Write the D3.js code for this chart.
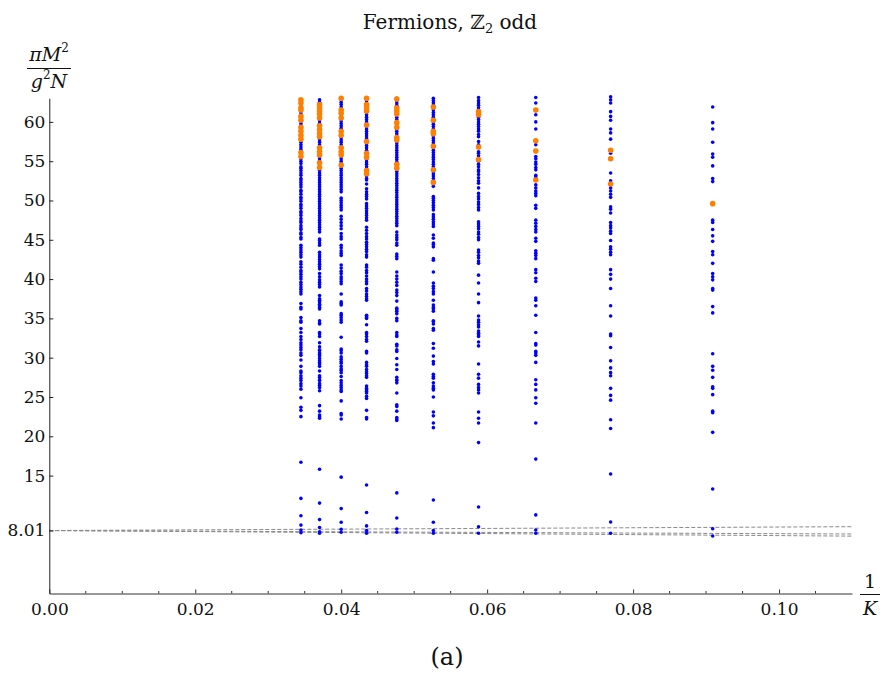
<!DOCTYPE html>
<html>
<head>
<meta charset="utf-8">
<script src="https://cdn.jsdelivr.net/npm/d3@7"></script>
<style>
  html, body { margin: 0; padding: 0; background: #fff; }
  svg { display: block; }
  svg text { font-family: "DejaVu Serif", serif; fill: #111; }
</style>
</head>
<body>
<svg id="chart" width="885" height="675"></svg>
<script>
// ---------------- DATA ----------------
const kValues = [29, 27, 25, 23, 21, 19, 17, 15, 13, 11];

// blue points (pi M^2 / g^2 N) for each K
const blueK29 = [7.74, 8.08, 8.7, 9.9, 12.1, 16.7,
  22.5, 23.3, 23.7, 24.9, 26.0, 26.4, 26.7, 27.1, 27.4, 27.7, 28.1, 28.3, 28.9, 29.7, 30.3, 30.6, 31.0, 31.3, 31.6, 31.9, 32.3, 32.7, 33.2, 33.7, 34.5, 34.7, 35.1, 36.2, 36.4, 36.9,
  38.1, 38.4, 38.7, 39.0, 39.3, 39.6, 40.0, 40.3, 40.6, 40.9, 41.1, 41.5, 41.9, 42.2, 42.8, 43.1, 43.4, 43.7, 44.0, 44.3,
  45.1, 45.3, 45.7, 45.9, 46.3, 46.5, 46.8, 47.2, 47.4, 47.7, 48.1, 48.4, 48.6, 49.0, 49.3, 49.5, 49.9, 50.2, 50.4, 50.8, 51.1, 51.3, 51.7, 52.0, 52.3, 52.6, 52.8, 53.2, 53.5, 53.8, 54.1, 54.3, 54.7, 55.0, 55.3, 55.6, 55.9, 56.2, 56.5, 56.8, 57.1, 57.4, 57.7, 58.0, 58.3, 58.6, 58.9, 59.2, 59.5, 59.8, 60.1, 60.4, 60.7, 61.0, 61.3, 61.6, 61.9, 62.2, 62.5, 62.8];
const blueK27 = [7.66, 7.86, 8.4, 9.4, 11.5, 15.8,
  22.3, 22.5, 22.7, 23.2, 23.9, 25.8, 26.2, 26.5, 26.7, 27.1, 27.2, 27.5, 27.7, 28.3, 28.9, 29.2, 29.4, 29.6, 29.9, 30.2, 30.4, 30.6, 30.9, 31.0, 31.4, 31.9, 32.7, 33.0, 33.2, 34.3, 34.4, 34.7, 36.2, 36.4, 36.6, 36.8, 37.1, 37.3,
  37.5, 37.9, 39.0, 39.3, 39.6, 39.9, 40.3, 40.7, 41.3, 41.6, 41.9, 42.2, 42.5, 42.8, 43.1, 43.4, 44.3, 44.6, 44.9, 45.1,
  46.0, 46.3, 46.6, 46.9, 47.2, 47.5, 47.8, 48.1, 48.4, 48.7, 49.0, 49.3, 49.6, 49.9, 50.2, 50.5, 50.8, 51.1, 51.4, 51.7, 52.0, 52.3, 52.6, 52.9, 53.2, 53.5, 53.8, 54.1, 54.4, 54.7, 55.0, 55.3, 55.6, 55.9, 56.2, 56.5, 56.8, 57.1, 57.4, 57.7, 58.0, 58.3, 58.6, 58.9, 59.2, 59.5, 59.8, 60.1, 60.4, 60.7, 61.0, 61.3, 61.6, 61.9, 62.2, 62.5, 62.8];
const blueK25 = [7.79, 8.17, 9.06, 10.8, 14.8,
  22.2, 22.7, 22.9, 24.5, 25.7, 25.9, 26.2, 26.5, 26.8, 27.1, 27.6, 28.1, 28.4, 28.6, 28.9, 29.3, 29.5, 29.8, 30.1, 30.6, 30.9, 31.1, 32.6, 34.5, 34.8, 35.1, 35.4, 35.6, 36.7, 36.9, 37.1,
  38.1, 39.4, 39.7, 40.0, 40.3, 40.7, 41.0, 41.4, 41.8, 43.0, 43.3, 43.6, 44.0, 44.3, 45.1, 45.4, 45.8, 46.4, 46.8, 47.2, 47.6, 48.0, 48.8, 49.1, 49.4, 49.7, 50.0, 50.3,
  51.1, 51.4, 51.7, 52.0, 52.3, 52.6, 52.9, 53.2, 53.5, 53.8, 54.1, 54.4, 54.7, 55.0, 55.3, 55.6, 55.9, 56.2, 56.5, 56.8, 57.1, 57.4, 57.7, 58.0, 58.3, 58.6, 58.9, 59.2, 59.5, 59.8, 60.1, 60.4, 60.7, 61.0, 61.3, 61.6, 61.9, 62.2, 62.5, 62.8];
const blueK23 = [7.66, 8.0, 8.6, 10.3, 13.8,
  22.2, 22.4, 23.3, 24.8, 25.1, 25.5, 25.7, 25.9, 26.1, 26.4, 27.5, 27.7, 28.0, 28.2, 28.5, 28.9, 29.1, 29.4, 30.6, 30.8, 32.1, 32.3, 32.7, 33.0, 33.2, 34.2, 35.0, 35.1, 35.3, 35.4, 37.3,
  37.5, 37.8, 38.1, 38.5, 38.8, 39.4, 39.7, 40.0, 40.4, 40.8, 41.1, 41.5, 41.8, 42.8, 43.1, 43.5, 43.8, 44.1, 44.4, 44.7, 45.1, 45.4, 45.8, 46.2, 46.6, 47.5, 47.8, 48.1, 48.4, 48.7, 49.0, 49.3, 49.6,
  50.2, 50.5, 50.8, 51.1, 51.5, 52.1, 52.6, 52.8, 53.1, 53.4, 53.7, 54.0, 54.3, 54.6, 54.9, 55.2, 55.5, 55.8, 56.1, 56.4, 56.7, 57.0, 57.3, 57.6, 57.9, 58.2, 58.5, 58.8, 59.1, 59.4, 59.7, 60.0, 60.3, 60.6, 60.9, 61.2, 61.5, 61.8, 62.1, 62.4, 62.7, 63.0];
const blueK21 = [7.8, 8.2, 9.6, 12.8,
  22.0, 22.2, 22.4, 23.2, 23.8, 24.0, 25.5, 26.8, 27.1, 27.2, 27.5, 28.5, 29.1, 29.9, 30.8, 31.0, 31.5, 31.7, 32.7, 32.9, 33.2, 34.7, 35.0, 35.6, 35.9, 36.1, 36.3, 37.2,
  37.9, 38.3, 38.6, 39.2, 39.6, 40.0, 40.4, 40.9, 42.6, 42.9, 43.2, 44.3, 44.6, 45.0, 45.3, 45.6, 46.0,
  46.8, 47.1, 47.4, 47.7, 48.0, 48.3, 48.6, 48.9, 49.2, 49.5, 49.8, 50.1, 50.4, 50.7, 51.0, 51.3, 51.6, 51.9, 52.2, 52.5, 52.8, 53.1, 53.4, 53.7, 54.0, 54.3, 54.6, 54.9, 55.2, 55.5, 55.8, 56.1, 56.4, 56.7, 57.0, 57.3, 57.6, 57.9, 58.2, 58.5, 58.8, 59.1, 59.4, 59.7, 60.0, 60.3, 60.6, 60.9, 61.2, 61.5, 61.8, 62.1, 62.4, 62.7, 63.0];
const blueK19 = [7.66, 8.0, 9.06, 11.9,
  21.1, 21.7, 22.6, 23.1, 25.0, 25.9, 26.1, 26.4, 26.8, 27.4, 27.6, 27.9, 29.2, 29.5, 30.2, 31.2, 31.8, 33.5, 33.7, 34.3, 34.6, 34.7, 35.9, 36.2, 36.4, 36.7, 37.3,
  38.1, 38.4, 38.8, 39.1, 39.5, 40.9, 42.4, 42.6, 44.1, 44.4, 44.6, 45.2, 45.6, 46.7, 47.0, 47.3, 47.6, 47.9, 48.2, 48.8, 49.1, 49.4, 49.7, 50.0, 50.3, 50.5,
  51.8, 52.1, 52.5, 52.8, 53.1, 53.4, 53.7, 54.0, 54.3, 54.6, 54.9, 55.2, 55.5, 55.8, 56.1, 56.4, 56.7, 57.0, 57.3, 57.6, 57.9, 58.2, 58.5, 58.8, 59.1, 59.4, 59.7, 60.0, 60.3, 60.6, 60.9, 61.2, 61.5, 61.8, 62.1, 62.4, 62.7, 63.0];
const blueK17 = [7.66, 8.5, 11.0,
  19.2, 21.7, 22.3, 23.1, 25.5, 25.9, 26.2, 26.6, 27.4, 27.9, 29.2, 31.5, 32.0, 32.7, 32.9, 33.1, 33.4, 33.9, 34.2, 34.5, 34.8, 35.3, 37.0,
  38.1, 39.5, 40.5, 42.0, 42.3, 42.7, 43.0, 43.4, 43.7, 45.0, 45.3, 45.7, 46.0, 46.4, 46.7, 47.0, 47.3, 48.8, 49.1, 49.5, 49.8, 50.2, 50.5, 50.9, 51.6,
  52.2, 52.5, 52.9, 53.3, 53.7, 53.9, 54.3, 54.6, 55.0, 55.3, 55.7, 56.0, 56.2, 57.1, 57.5, 58.1, 58.4, 58.8, 59.1, 59.4, 59.7, 60.0, 60.3, 60.6, 60.9, 61.2, 61.5, 61.8, 62.1, 62.4, 62.7, 63.1];
const blueK15 = [7.66, 8.08, 10.0,
  17.1, 21.7, 24.2, 24.9, 25.9, 26.6, 27.2, 29.4, 30.3, 30.6, 30.8, 31.6, 31.8, 33.2, 35.4, 36.6, 37.3, 37.6, 39.7, 40.1, 40.8, 41.2, 42.6, 43.0, 43.3, 43.6, 44.8, 45.2,
  46.0, 46.3, 46.7, 47.1, 47.5, 49.0, 49.4, 50.6, 50.9, 51.2, 51.6, 52.0, 53.0, 53.2, 53.9, 54.2, 54.6, 54.9, 55.3, 55.6, 57.1, 59.1, 60.0, 60.9, 62.4, 63.1];
const blueK13 = [7.66, 9.1,
  15.2, 21.0, 22.1, 24.6, 25.2, 26.1, 27.7, 28.1, 28.7, 29.6, 31.3, 32.8, 33.0, 35.3, 36.6, 38.8, 40.0, 40.6, 41.2, 43.1, 43.4, 43.8, 44.1, 44.9,
  45.8, 46.1, 46.5, 46.8, 47.2, 48.4, 48.9, 49.2, 50.4, 50.8, 51.2, 51.6, 52.5, 53.5, 56.0, 57.8, 58.6, 59.1, 60.2, 60.7, 61.3, 62.4, 62.8, 63.2];
const blueK11 = [7.32, 8.24,
  13.3, 20.5, 23.0, 23.2, 25.3, 26.1, 26.3, 27.5, 28.4, 28.9, 30.5, 35.7, 36.5, 38.6, 38.8, 39.9, 40.3, 40.7, 42.0, 43.1, 43.5, 44.8, 45.5, 46.3, 47.2, 47.5,
  52.4, 52.8, 54.4, 55.5, 55.9, 57.4, 59.1, 59.9, 61.9];

// orange points for each K
const orangeK29 = [62.8, 62.4, 61.8, 61.5, 60.7, 60.2, 59.3, 58.8, 58.3, 57.8, 56.1, 55.6];
const orangeK27 = [62.2, 61.8, 61.4, 61.0, 60.5, 59.5, 59.0, 58.5, 58.1, 56.7, 56.2, 55.8, 54.8, 54.2];
const orangeK25 = [63.0, 61.5, 61.1, 60.5, 58.8, 58.3, 56.7, 56.2, 55.8, 54.5];
const orangeK23 = [63.0, 62.2, 61.8, 61.4, 59.6, 57.5, 56.0, 55.5, 53.8, 53.4];
const orangeK21 = [62.9, 61.8, 61.4, 61.0, 59.9, 59.3, 58.0, 57.7, 54.6, 54.1];
const orangeK19 = [61.9, 60.2, 58.8, 58.5, 56.9, 53.9, 52.3];
const orangeK17 = [61.3, 60.9, 56.8, 55.2];
const orangeK15 = [61.5, 57.6, 56.3, 52.6];
const orangeK13 = [56.4, 55.3, 52.1];
const orangeK11 = [49.6];

// dashed extrapolation lines: value at 1/K = 0 and at 1/K = 0.11
const fitX = [0, 0.11];
const fitStart = [8.01, 8.01, 8.01];
const fitEnd = [8.50, 7.57, 7.30];

const xTickValues = [0, 0.02, 0.04, 0.06, 0.08, 0.10];
const xTickLabels = ["0.00", "0.02", "0.04", "0.06", "0.08", "0.10"];
const xMinorTicks = [0.005, 0.01, 0.015, 0.025, 0.03, 0.035, 0.045, 0.05, 0.055, 0.065, 0.07, 0.075, 0.085, 0.09, 0.095, 0.105];
const yTickValues = [8.01, 15, 20, 25, 30, 35, 40, 45, 50, 55, 60];
const yTickLabels = ["8.01", "15", "20", "25", "30", "35", "40", "45", "50", "55", "60"];

// ---------------- CHART ----------------
const FONT = '"DejaVu Serif", serif';
const blueSets = [blueK29, blueK27, blueK25, blueK23, blueK21, blueK19, blueK17, blueK15, blueK13, blueK11];
const orangeSets = [orangeK29, orangeK27, orangeK25, orangeK23, orangeK21, orangeK19, orangeK17, orangeK15, orangeK13, orangeK11];

const bluePts = [];
const orangePts = [];
kValues.forEach((k, i) => {
  blueSets[i].forEach(v => bluePts.push({x: 1 / k, y: v}));
  orangeSets[i].forEach(v => orangePts.push({x: 1 / k, y: v}));
});

const svg = d3.select("#chart");
const x = d3.scaleLinear().domain([0, 0.11]).range([49.3, 852]);
const y = d3.scaleLinear().domain([0, 63]).range([593.5, 98.3]);

// dashed lines
const fitLines = fitStart.map((s, i) => [{x: fitX[0], y: s}, {x: fitX[1], y: fitEnd[i]}]);
const line = d3.line().x(d => x(d.x)).y(d => y(d.y));
svg.append("g").selectAll("path").data(fitLines).join("path")
  .attr("d", line)
  .attr("fill", "none")
  .attr("stroke", "#8a8a8a")
  .attr("stroke-width", 1)
  .attr("stroke-dasharray", "4,2");

// points
svg.append("g").selectAll("circle").data(bluePts).join("circle")
  .attr("cx", d => x(d.x)).attr("cy", d => y(d.y))
  .attr("r", 1.8).attr("fill", "#0000ff");
svg.append("g").selectAll("circle").data(orangePts).join("circle")
  .attr("cx", d => x(d.x)).attr("cy", d => y(d.y))
  .attr("r", 2.8).attr("fill", "#ff8000");

// axes
const xAxis = d3.axisBottom(x).tickValues(xTickValues)
  .tickFormat((d, i) => xTickLabels[i]).tickSizeInner(-4).tickSizeOuter(0).tickPadding(9);
const gx = svg.append("g").attr("transform", `translate(0,${y(0)})`).call(xAxis).attr("font-family", FONT);
gx.selectAll(".tick text").attr("font-size", 17).style("font-family", FONT).attr("fill", "#111");
gx.select(".domain").attr("stroke", "#333");
gx.selectAll(".tick line").attr("stroke", "#333");
svg.append("g").selectAll("line").data(xMinorTicks).join("line")
  .attr("x1", d => x(d)).attr("x2", d => x(d))
  .attr("y1", y(0)).attr("y2", y(0) - 2.5)
  .attr("stroke", "#333");

const yAxis = d3.axisLeft(y).tickValues(yTickValues)
  .tickFormat((d, i) => yTickLabels[i]).tickSizeInner(-4).tickSizeOuter(0).tickPadding(4);
const gy = svg.append("g").attr("transform", `translate(${x(0)},0)`).call(yAxis).attr("font-family", FONT);
gy.selectAll(".tick text").attr("font-size", 17).style("font-family", FONT).attr("fill", "#111");
gy.select(".domain").attr("stroke", "#222");
gy.selectAll(".tick line").attr("stroke", "#222");

// title
const title = svg.append("text").attr("x", 450).attr("y", 29)
  .attr("text-anchor", "middle").attr("font-size", 20).style("font-family", FONT);
title.append("tspan").text("Fermions, ");
title.append("tspan").text("ℤ");
title.append("tspan").attr("dy", 4).attr("font-size", 13).text("2");
title.append("tspan").attr("dy", -4).text(" odd");

// y label (fraction)
const num = svg.append("text").attr("x", 49).attr("y", 61).attr("text-anchor", "middle").attr("font-size", 19).style("font-family", FONT);
num.append("tspan").attr("font-style", "italic").text("πM");
num.append("tspan").attr("dy", -9).attr("font-size", 12).text("2");
svg.append("line").attr("x1", 27).attr("x2", 71).attr("y1", 68.5).attr("y2", 68.5)
  .attr("stroke", "#111").attr("stroke-width", 1);
const den = svg.append("text").attr("x", 49).attr("y", 88).attr("text-anchor", "middle").attr("font-size", 19).style("font-family", FONT);
den.append("tspan").attr("font-style", "italic").text("g");
den.append("tspan").attr("dy", -9).attr("font-size", 12).text("2");
den.append("tspan").attr("dy", 9).attr("font-style", "italic").text("N");

// x label (fraction)
svg.append("text").attr("x", 870).attr("y", 588).attr("text-anchor", "middle").attr("font-size", 19).style("font-family", FONT).text("1");
svg.append("line").attr("x1", 860).attr("x2", 880).attr("y1", 594.5).attr("y2", 594.5)
  .attr("stroke", "#111").attr("stroke-width", 1);
svg.append("text").attr("x", 870).attr("y", 615).attr("text-anchor", "middle").attr("font-size", 19).style("font-family", FONT)
  .attr("font-style", "italic").text("K");

// caption
svg.append("text").attr("x", 447).attr("y", 665).attr("text-anchor", "middle").attr("font-size", 24).style("font-family", FONT).text("(a)");
</script>
</body>
</html>
